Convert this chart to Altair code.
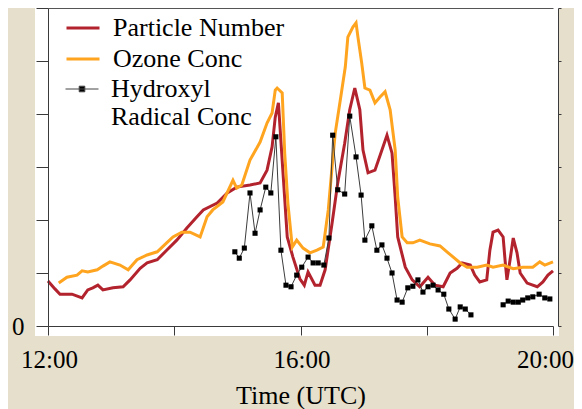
import altair as alt
import pandas as pd

# ---------------- data (hours of day, arbitrary units) ----------------
pn_t = [12.00, 12.11, 12.19, 12.38, 12.54, 12.63, 12.71, 12.79, 12.87, 13.03,
        13.19, 13.30, 13.46, 13.57, 13.73, 13.88, 14.04, 14.20, 14.36, 14.46,
        14.68, 14.84, 14.99, 15.20, 15.36, 15.47, 15.55, 15.60, 15.65, 15.72,
        15.79, 15.88, 15.99, 16.06, 16.12, 16.23, 16.31, 16.39, 16.50, 16.59,
        16.70, 16.78, 16.86, 16.94, 16.99, 17.07, 17.18, 17.29, 17.37, 17.45,
        17.50, 17.54, 17.66, 17.77, 17.89, 18.02, 18.13, 18.26, 18.37, 18.48,
        18.56, 18.69, 18.76, 18.84, 18.95, 19.00, 19.05, 19.13, 19.21, 19.24,
        19.27, 19.32, 19.37, 19.43, 19.48, 19.59, 19.75, 19.84, 19.92, 20.00]
pn_v = [0.85, 0.70, 0.60, 0.60, 0.53, 0.68, 0.72, 0.77, 0.68, 0.72,
        0.74, 0.87, 1.09, 1.19, 1.25, 1.43, 1.62, 1.85, 2.06, 2.19,
        2.32, 2.51, 2.62, 2.66, 2.70, 2.94, 3.38, 3.94, 4.21, 2.94,
        1.68, 1.30, 0.89, 0.77, 1.02, 0.77, 0.77, 1.06, 1.94, 2.70,
        3.45, 4.08, 4.49, 4.08, 3.32, 2.89, 2.94, 3.32, 3.60, 3.26,
        2.43, 1.68, 1.11, 0.87, 0.74, 0.92, 0.77, 0.74, 1.00, 1.09,
        1.19, 1.15, 0.96, 0.83, 0.87, 1.43, 1.77, 1.81, 1.68, 1.25,
        0.87, 1.25, 1.66, 1.38, 1.00, 0.81, 0.74, 0.83, 0.96, 1.04]

oz_t = [12.17, 12.30, 12.46, 12.54, 12.63, 12.78, 12.87, 12.98, 13.14, 13.27,
        13.41, 13.57, 13.73, 13.88, 13.98, 14.12, 14.25, 14.41, 14.52, 14.61,
        14.77, 14.93, 14.99, 15.07, 15.20, 15.36, 15.47, 15.55, 15.60, 15.63,
        15.71, 15.75, 15.80, 15.87, 15.94, 16.04, 16.15, 16.26, 16.36, 16.44,
        16.50, 16.55, 16.63, 16.71, 16.75, 16.83, 16.88, 16.91, 16.97, 17.02,
        17.10, 17.18, 17.26, 17.34, 17.42, 17.50, 17.54, 17.61, 17.69, 17.78,
        17.89, 18.05, 18.21, 18.32, 18.42, 18.53, 18.64, 18.80, 18.95, 19.05,
        19.21, 19.37, 19.52, 19.68, 19.79, 19.87, 20.00]
oz_v = [0.81, 0.92, 0.96, 1.04, 1.02, 1.06, 1.13, 1.21, 1.15, 1.06,
        1.25, 1.34, 1.40, 1.57, 1.68, 1.77, 1.77, 1.68, 2.06, 2.19,
        2.34, 2.75, 2.60, 2.66, 3.13, 3.47, 3.83, 4.02, 4.45, 4.49,
        4.40, 3.26, 2.32, 1.49, 1.62, 1.47, 1.38, 1.43, 1.49, 2.19,
        3.00, 3.64, 4.26, 4.89, 5.45, 5.64, 5.72, 5.45, 4.96, 4.49,
        4.45, 4.21, 4.32, 4.42, 4.08, 3.32, 2.43, 1.68, 1.57, 1.57,
        1.62, 1.55, 1.51, 1.40, 1.30, 1.19, 1.11, 1.11, 1.15, 1.11,
        1.15, 1.08, 1.11, 1.11, 1.21, 1.15, 1.21]

oh1_t = [14.96, 15.03, 15.11, 15.20, 15.28, 15.36, 15.45, 15.53, 15.61, 15.69,
         15.77, 15.85, 15.94, 16.02, 16.12, 16.20, 16.28, 16.37, 16.45, 16.51,
         16.59, 16.70, 16.78, 16.88, 16.96, 17.02, 17.13, 17.21, 17.29, 17.37,
         17.45, 17.53, 17.61, 17.70, 17.78, 17.86, 17.94, 18.02, 18.10, 18.18,
         18.27, 18.35, 18.45, 18.53, 18.61, 18.70]
oh1_v = [1.40, 1.28, 1.47, 2.51, 1.75, 2.19, 2.62, 2.51, 3.57, 1.43,
         0.77, 0.74, 0.96, 1.11, 1.30, 1.19, 1.19, 1.15, 1.66, 3.60,
         2.57, 2.49, 3.96, 3.19, 2.47, 1.62, 1.89, 1.43, 1.53, 1.28,
         1.00, 0.49, 0.45, 0.72, 0.75, 0.87, 0.64, 0.74, 0.77, 0.68,
         0.60, 0.32, 0.13, 0.36, 0.32, 0.21]
oh2_t = [19.21, 19.29, 19.37, 19.45, 19.52, 19.60, 19.68, 19.78, 19.87, 19.95]
oh2_v = [0.40, 0.47, 0.45, 0.45, 0.49, 0.53, 0.55, 0.60, 0.53, 0.51]

series_names = ["Particle Number", "Ozone Conc", "Hydroxyl Radical Conc"]
x_ticks = [12, 14, 16, 18, 20]
y_ticks = [0, 1, 2, 3, 4, 5, 6]

# ---------------- styling ----------------
FONT = "Liberation Serif"
RED = "#B3232E"
ORANGE = "#FFA41F"
BG = "#E5DFCB"
AX = "#3a3a3a"

lines_df = pd.concat([
    pd.DataFrame({"t": pn_t, "v": pn_v, "series": series_names[0]}),
    pd.DataFrame({"t": oz_t, "v": oz_v, "series": series_names[1]}),
])
oh_df = pd.concat([
    pd.DataFrame({"t": oh1_t, "v": oh1_v, "seg": 1}),
    pd.DataFrame({"t": oh2_t, "v": oh2_v, "seg": 2}),
])
oh_df["series"] = series_names[2]

xscale = alt.Scale(domain=[12, 20], nice=False, zero=False)
yscale = alt.Scale(domain=[0, 6], nice=False)

bg = alt.Chart(pd.DataFrame({"k": [0]})).mark_rect(color="white").encode(
    x=alt.value(-13), x2=alt.value(511), y=alt.value(-1), y2=alt.value(328)
)

lines = alt.Chart(lines_df).mark_line(strokeWidth=3).encode(
    x=alt.X("t:Q", scale=xscale, axis=alt.Axis(
        orient="bottom", values=x_ticks, tickSize=9, labelPadding=12,
        labelFlush=False, zindex=2,
        labelOffset={"condition": {"test": "datum.value == 20", "value": -8},
                     "value": 1},
        labelExpr="(datum.value == 14 || datum.value == 18) ? '' : datum.value + ':00'",
        title="Time (UTC)", titleBaseline="alphabetic", titleY=77,
        titleFontSize=26)),
    y=alt.Y("v:Q", scale=yscale, axis=alt.Axis(
        orient="left", values=y_ticks, tickSize=12, labelPadding=12, zindex=2,
        labelExpr="datum.value == 0 ? '0' : ''", title=None)),
    color=alt.Color("series:N",
                    scale=alt.Scale(domain=series_names[:2], range=[RED, ORANGE]),
                    legend=alt.Legend(orient="none", legendX=17, legendY=2,
                                      title=None, symbolType="stroke",
                                      symbolSize=1089, symbolStrokeWidth=3,
                                      labelOffset=12, rowPadding=0, padding=0,
                                      labelFontSize=26)),
)

oh_line = alt.Chart(oh_df).mark_line(color="#3c3c3c", strokeWidth=1).encode(
    x=alt.X("t:Q", scale=xscale, axis=alt.Axis(
        orient="top", ticks=False, labels=False, title=None, domain=True,
        zindex=2, domainColor="#555555")),
    y=alt.Y("v:Q", scale=yscale, axis=alt.Axis(
        orient="right", offset=5, values=y_ticks, tickSize=3, labels=False,
        title=None, zindex=2)),
    detail="seg:N",
)

oh_pts = alt.Chart(oh_df).mark_point(shape="square", filled=True, size=26,
                                     opacity=1).encode(
    x=alt.X("t:Q", scale=xscale, axis=None),
    y=alt.Y("v:Q", scale=yscale, axis=None),
    fill=alt.Fill("series:N",
                  scale=alt.Scale(domain=series_names[2:], range=["black"]),
                  legend=alt.Legend(orient="none", legendX=17, legendY=64,
                                    title=None,
                                    symbolType="M-1,0H1M-0.17,-0.17H0.17V0.17H-0.17Z",
                                    symbolSize=1089, symbolStrokeWidth=1,
                                    symbolStrokeColor="#444", labelOffset=12,
                                    padding=0, labelFontSize=26,
                                    labelExpr="['Hydroxyl', 'Radical Conc']")),
)

chart = alt.layer(bg, lines, oh_line, oh_pts).resolve_axis(
    x="independent", y="independent"
).properties(
    width=505, height=318,
    autosize=alt.AutoSizeParams(type="none"),
    padding={"left": 40, "top": 0, "right": 21, "bottom": 83},
    background=BG,
).configure_view(strokeWidth=0).configure_axis(
    grid=False, domainColor=AX, tickColor=AX, domainWidth=1,
    tickWidth=1, labelFont=FONT, labelFontSize=25, labelColor="black",
    titleFont=FONT, titleFontSize=26, titleFontWeight="normal",
    titleColor="black",
).configure_legend(
    labelFont=FONT, labelColor="black", labelLimit=400
)

chart.save("out.html", embed_options={"renderer": "svg", "actions": False})
